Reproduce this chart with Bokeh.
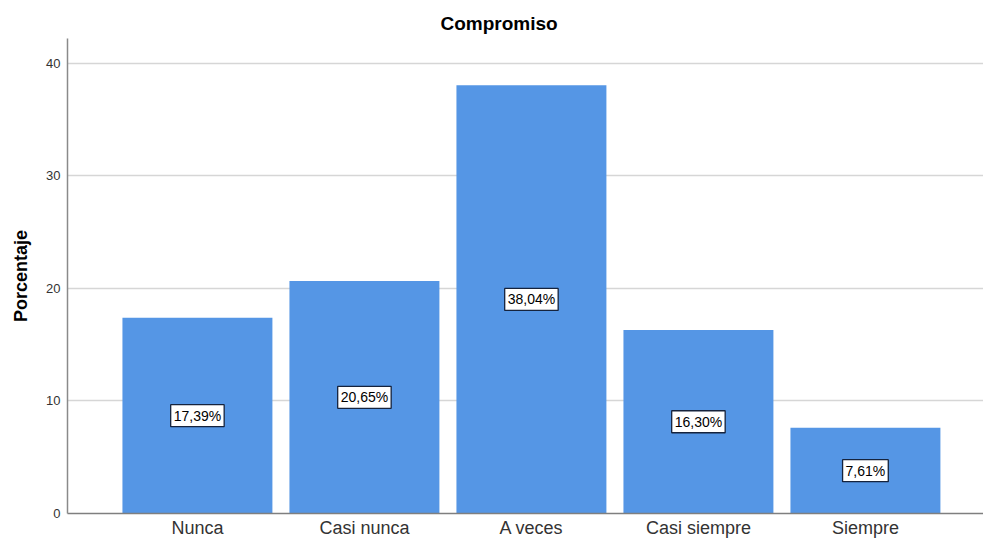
from bokeh.plotting import figure
from bokeh.models import ColumnDataSource, Range1d, FixedTicker, Title
from bokeh.core.properties import value
from bokeh.embed import file_html
from bokeh.resources import INLINE

categories = ["Nunca", "Casi nunca", "A veces", "Casi siempre", "Siempre"]
porcentajes = [17.39, 20.65, 38.04, 16.30, 7.61]
y_ticks = [0, 10, 20, 30, 40]

xs = list(range(len(categories)))
labels = [f"{v:.2f}%".replace(".", ",") for v in porcentajes]
mids = [v / 2 for v in porcentajes]

source = ColumnDataSource(data=dict(x=xs, top=porcentajes, mid=mids, label=labels))

p = figure(width=983, height=540, output_backend="svg", toolbar_location=None,
           x_range=Range1d(-0.778, 4.707), y_range=Range1d(0, 42.2),
           min_border_left=67, min_border_right=0, min_border_top=38, min_border_bottom=0)
p.outline_line_color = None
p.background_fill_color = "white"
p.border_fill_color = "white"

p.add_layout(Title(text="Compromiso", align="left", offset=373, text_font="Liberation Sans",
                   text_font_size="19px", text_font_style="bold", text_color="#000000"), "above")

p.vbar(x="x", top="top", bottom=0, width=0.898, source=source,
       fill_color="#5596E5", line_color=None)

p.text(x="x", y="mid", text="label", source=source,
       text_align="center", text_baseline="middle",
       text_font=value("Liberation Sans"), text_font_size="14px", text_color="#000000",
       background_fill_color="white", border_line_color="#15233d",
       border_line_width=1.3, padding=3)

# x axis
p.xaxis.ticker = FixedTicker(ticks=xs)
p.xaxis.major_label_overrides = {i: c for i, c in enumerate(categories)}
p.xaxis.major_tick_line_color = None
p.xaxis.minor_tick_line_color = None
p.xaxis.major_tick_out = 0
p.xaxis.major_tick_in = 0
p.xaxis.minor_tick_out = 0
p.xaxis.major_label_standoff = 4
p.xaxis.major_label_text_font = "Liberation Sans"
p.xaxis.major_label_text_font_size = "18px"
p.xaxis.major_label_text_color = "#333333"
p.xaxis.axis_line_color = "#7f7f7f"
p.xaxis.axis_line_width = 1.5
p.xgrid.grid_line_color = None

# y axis
p.yaxis.ticker = FixedTicker(ticks=y_ticks)
p.yaxis.major_tick_line_color = None
p.yaxis.minor_tick_line_color = None
p.yaxis.major_tick_out = 0
p.yaxis.major_tick_in = 0
p.yaxis.minor_tick_out = 0
p.yaxis.major_label_standoff = 7
p.yaxis.major_label_text_font = "Liberation Sans"
p.yaxis.major_label_text_font_size = "13px"
p.yaxis.major_label_text_color = "#333333"
p.yaxis.axis_line_color = "#8a8a8a"
p.yaxis.axis_line_width = 1.5
p.yaxis.axis_label = "Porcentaje"
p.yaxis.axis_label_text_font = "Liberation Sans"
p.yaxis.axis_label_text_font_size = "18px"
p.yaxis.axis_label_text_font_style = "bold"
p.yaxis.axis_label_text_color = "#000000"
p.yaxis.axis_label_standoff = 12
p.ygrid.grid_line_color = "#d6d6d6"
p.ygrid.grid_line_width = 1.5

open("out.html", "w").write(file_html(p, INLINE))
